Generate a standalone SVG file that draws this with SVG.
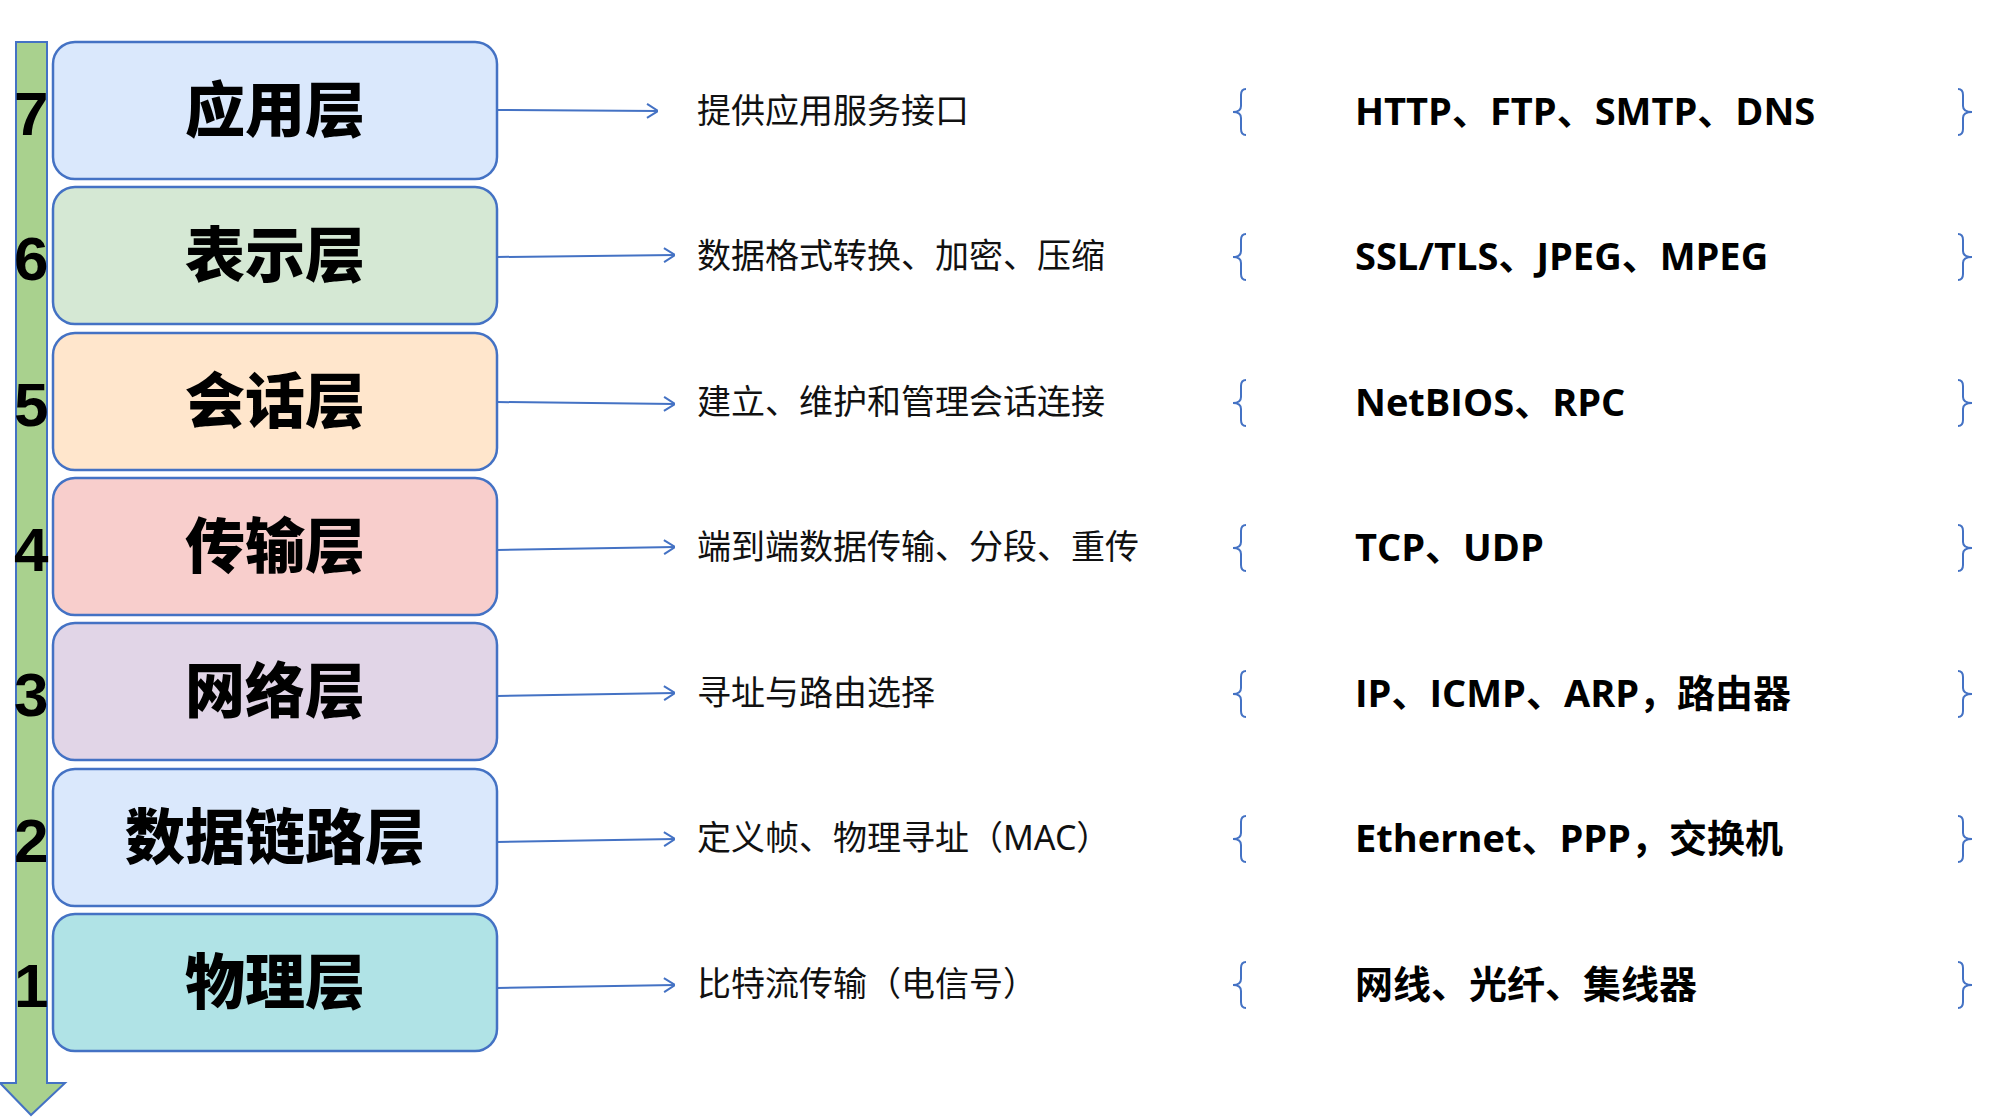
<svg xmlns="http://www.w3.org/2000/svg" width="1998" height="1117" viewBox="0 0 1998 1117">
<defs>
<marker id="ah" viewBox="0 0 12 16" refX="12" refY="8" markerWidth="12" markerHeight="16" markerUnits="userSpaceOnUse" orient="auto"><path d="M1,1 L12,8 L1,15" fill="none" stroke="#4472C4" stroke-width="2"/></marker>
<style>
.box{stroke:#4472C4;stroke-width:2.5}
.t{font-family:"Noto Sans CJK SC","Noto Sans",sans-serif;font-weight:900;font-size:60px;text-anchor:middle;fill:#000}
.n{font-family:"Liberation Sans","Noto Sans",sans-serif;font-weight:bold;font-size:62px;fill:#000}
.d{font-family:"Noto Sans","Noto Sans CJK SC",sans-serif;font-size:34px;fill:#111}
.p{font-family:"Open Sans","Noto Sans CJK SC",sans-serif;font-weight:bold;font-size:38px;fill:#000}
.c{stroke:#4472C4;stroke-width:2;fill:none}
.br{stroke:#4472C4;stroke-width:2;fill:none}
</style>
</defs>
<rect width="1998" height="1117" fill="#fff"/>
<g id="axis">
<path d="M16,42 H47 V1083 H65 L31,1115 L0,1083 H16 Z" fill="#A9D18E" stroke="#4472C4" stroke-width="2"/>
<text class="n" x="14" y="135">7</text>
<text class="n" x="14" y="280">6</text>
<text class="n" x="14" y="426">5</text>
<text class="n" x="14" y="571">4</text>
<text class="n" x="14" y="716">3</text>
<text class="n" x="14" y="862">2</text>
<text class="n" x="14" y="1007">1</text>
</g>
<g id="l7"><rect class="box" x="53" y="42" width="444" height="137" rx="22" fill="#DAE8FC"/><text class="t" x="275" y="132">应用层</text></g>
<g id="l6"><rect class="box" x="53" y="187" width="444" height="137" rx="22" fill="#D5E8D4"/><text class="t" x="275" y="277">表示层</text></g>
<g id="l5"><rect class="box" x="53" y="333" width="444" height="137" rx="22" fill="#FFE6CC"/><text class="t" x="275" y="423">会话层</text></g>
<g id="l4"><rect class="box" x="53" y="478" width="444" height="137" rx="22" fill="#F8CECC"/><text class="t" x="275" y="568">传输层</text></g>
<g id="l3"><rect class="box" x="53" y="623" width="444" height="137" rx="22" fill="#E1D5E7"/><text class="t" x="275" y="713">网络层</text></g>
<g id="l2"><rect class="box" x="53" y="769" width="444" height="137" rx="22" fill="#DAE8FC"/><text class="t" x="275" y="859">数据链路层</text></g>
<g id="l1"><rect class="box" x="53" y="914" width="444" height="137" rx="22" fill="#B0E3E6"/><text class="t" x="275" y="1004">物理层</text></g>
<g id="connectors">
<path class="c" d="M497,110 L658,111" marker-end="url(#ah)"/>
<path class="c" d="M497,257 L675,255" marker-end="url(#ah)"/>
<path class="c" d="M497,402 L675,404" marker-end="url(#ah)"/>
<path class="c" d="M497,550 L675,547" marker-end="url(#ah)"/>
<path class="c" d="M497,696 L675,693" marker-end="url(#ah)"/>
<path class="c" d="M497,842 L675,839" marker-end="url(#ah)"/>
<path class="c" d="M497,988 L675,985" marker-end="url(#ah)"/>
</g>
<g id="desc">
<text class="d" x="697" y="123">提供应用服务接口</text>
<text class="d" x="697" y="268">数据格式转换、加密、压缩</text>
<text class="d" x="697" y="414">建立、维护和管理会话连接</text>
<text class="d" x="697" y="559">端到端数据传输、分段、重传</text>
<text class="d" x="697" y="705">寻址与路由选择</text>
<text class="d" x="697" y="850">定义帧、物理寻址（MAC）</text>
<text class="d" x="697" y="996">比特流传输（电信号）</text>
</g>
<g id="brackets">
<path id="bl" class="br" d="M1246,89 Q1241,89 1241,95 V106 Q1241,112 1233,112 Q1241,112 1241,118 V129 Q1241,135 1246,135"/>
<path id="brr" class="br" d="M1958,89 Q1963,89 1963,95 V106 Q1963,112 1972,112 Q1963,112 1963,118 V129 Q1963,135 1958,135"/>
<use href="#bl" y="145"/><use href="#brr" y="145"/>
<use href="#bl" y="291"/><use href="#brr" y="291"/>
<use href="#bl" y="436"/><use href="#brr" y="436"/>
<use href="#bl" y="582"/><use href="#brr" y="582"/>
<use href="#bl" y="727"/><use href="#brr" y="727"/>
<use href="#bl" y="873"/><use href="#brr" y="873"/>
</g>
<g id="protocols">
<text class="p" x="1355" y="125">HTTP、FTP、SMTP、DNS</text>
<text class="p" x="1355" y="270">SSL/TLS、JPEG、MPEG</text>
<text class="p" x="1355" y="416">NetBIOS、RPC</text>
<text class="p" x="1355" y="561">TCP、UDP</text>
<text class="p" x="1355" y="707">IP、ICMP、ARP，路由器</text>
<text class="p" x="1355" y="852">Ethernet、PPP，交换机</text>
<text class="p" x="1355" y="998">网线、光纤、集线器</text>
</g>
</svg>
